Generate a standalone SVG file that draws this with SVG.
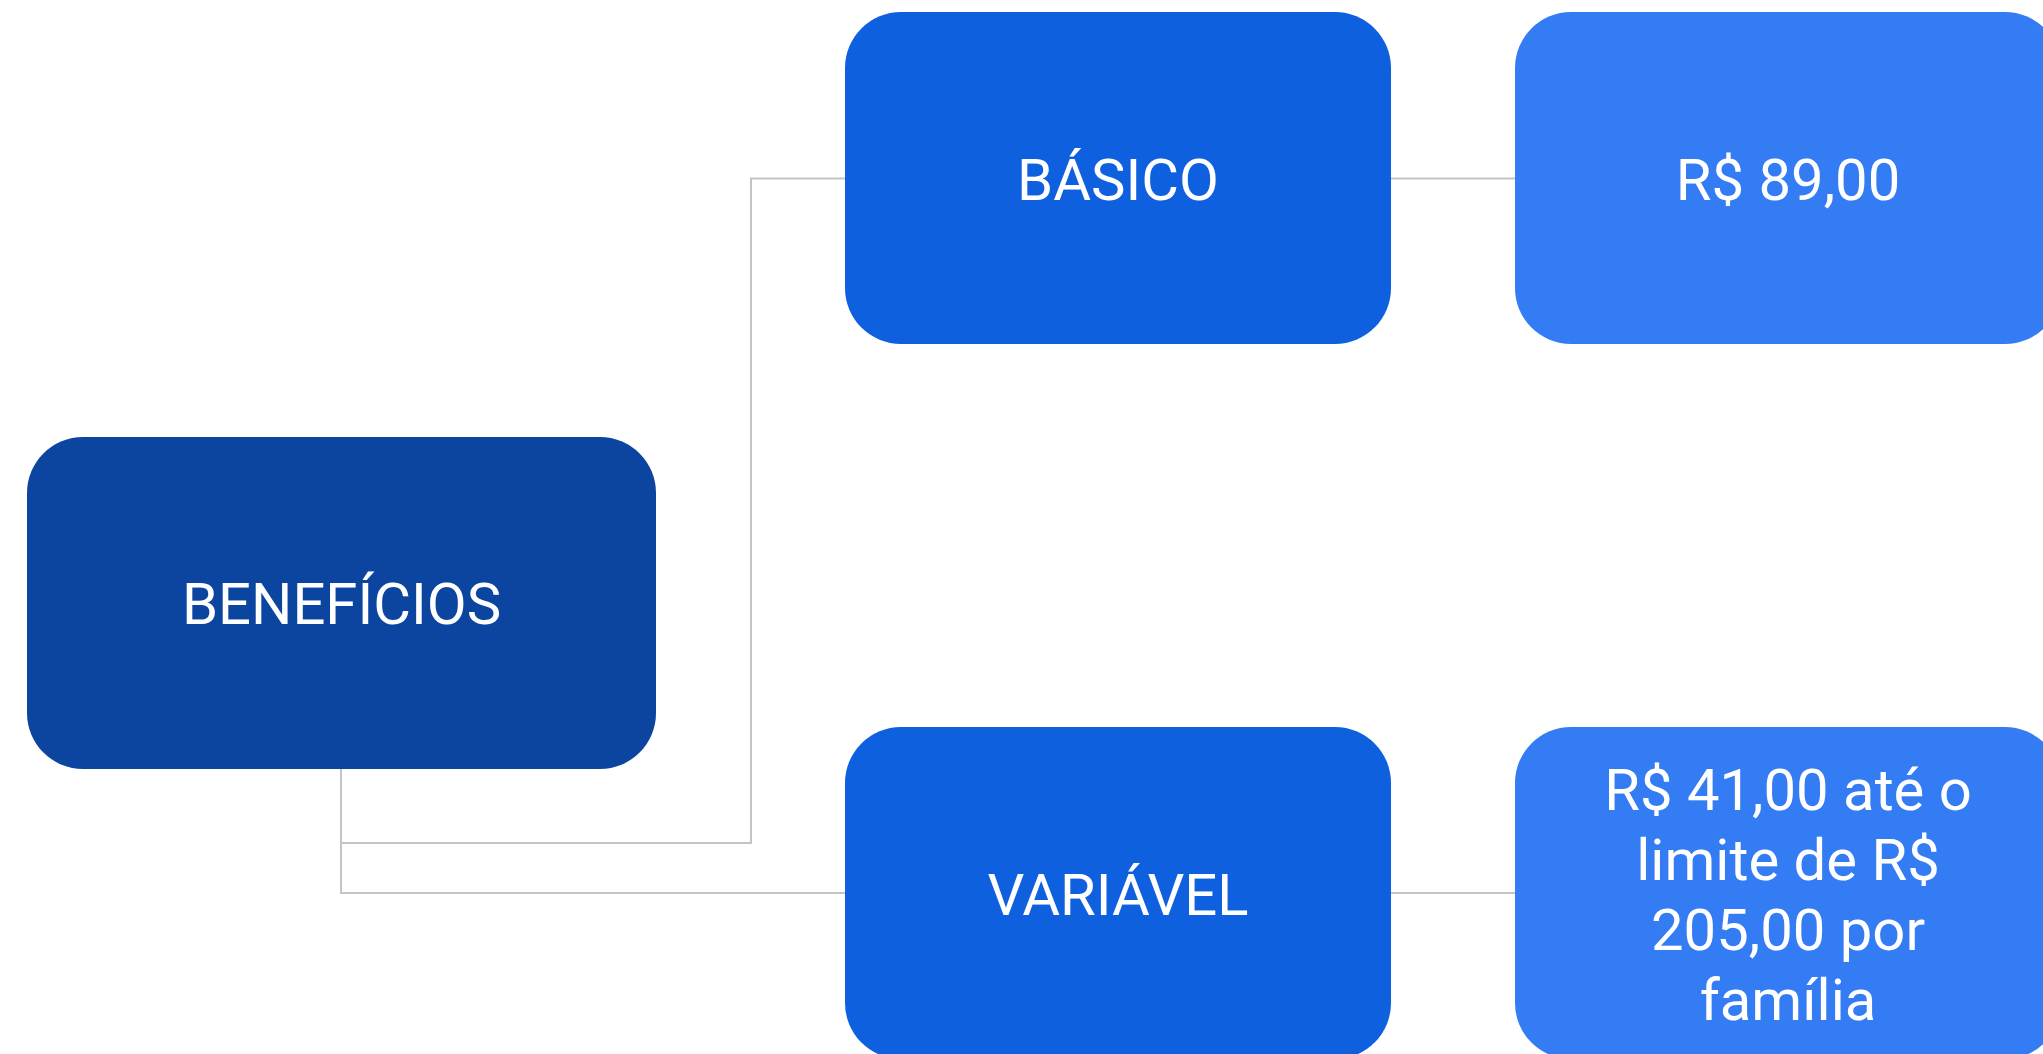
<svg xmlns="http://www.w3.org/2000/svg" width="2043" height="1054" viewBox="0 0 2043 1054">
<style>
.lbl{font-family:Roboto,"Liberation Sans",sans-serif;font-size:58px;font-weight:400;fill:#ffffff;text-anchor:middle}
.conn{fill:none;stroke:#c4c4c4;stroke-width:2}
.dark{fill:#0b45a0}
.mid{fill:#0e60df}
.light{fill:#337cf3}
</style>
<rect width="2043" height="1054" fill="#ffffff"/>
<g id="connectors">
<path class="conn" d="M341 769 V893 H845"/>
<path class="conn" d="M341 843 H751 V178.5 H845"/>
<path class="conn" d="M1391 178.5 H1515"/>
<path class="conn" d="M1391 893 H1515"/>
</g>
<g id="beneficios">
<rect class="dark" x="27" y="437" width="629" height="332" rx="56"/>
<text class="lbl" x="341.5" y="624">BENEFÍCIOS</text>
</g>
<g id="basico">
<rect class="mid" x="845" y="12" width="546" height="332" rx="56"/>
<text class="lbl" x="1118" y="200">BÁSICO</text>
</g>
<g id="variavel">
<rect class="mid" x="845" y="727" width="546" height="332" rx="56"/>
<text class="lbl" x="1118" y="915">VARIÁVEL</text>
</g>
<g id="valor-basico">
<rect class="light" x="1515" y="12" width="546" height="332" rx="56"/>
<text class="lbl" x="1788" y="200">R$ 89,00</text>
</g>
<g id="valor-variavel">
<rect class="light" x="1515" y="727" width="546" height="332" rx="56"/>
<text class="lbl" x="1788" y="810">R$ 41,00 até o</text>
<text class="lbl" x="1788" y="880">limite de R$</text>
<text class="lbl" x="1788" y="950">205,00 por</text>
<text class="lbl" x="1788" y="1020">família</text>
</g>
</svg>
